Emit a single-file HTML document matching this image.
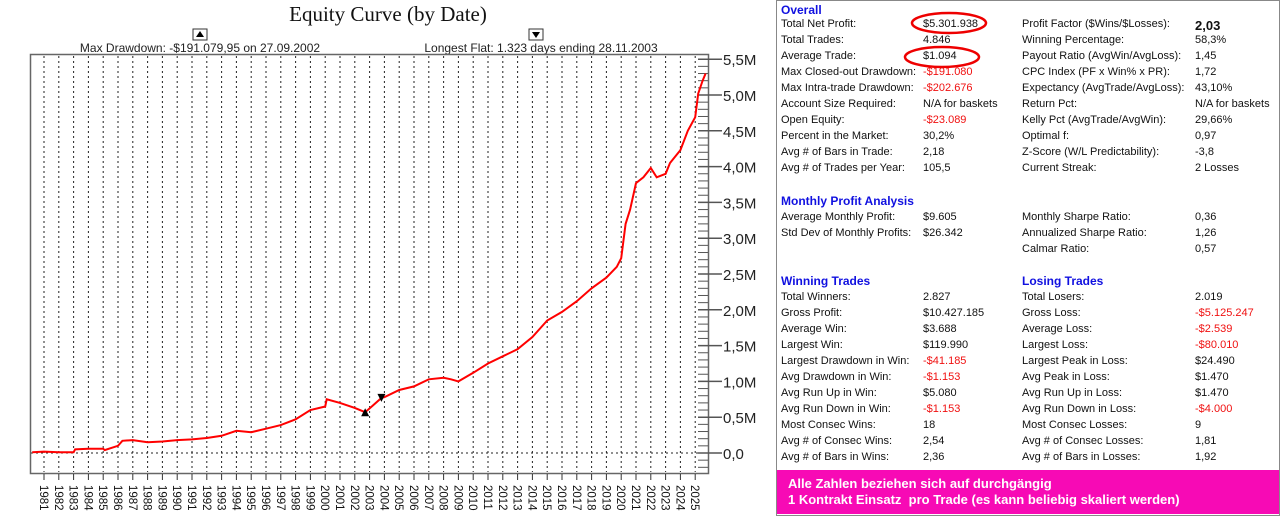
<!DOCTYPE html>
<html><head><meta charset="utf-8">
<style>
body{margin:0;width:1282px;height:516px;overflow:hidden;background:#fff;font-family:"Liberation Sans",Arial,sans-serif;position:relative}
#panel{position:absolute;left:776px;top:0;width:502px;height:514px;border:1px solid #888;background:#fff;font-size:11px;color:#111}
.t{position:absolute;white-space:nowrap}
.h{color:#1010e0;font-weight:bold;font-size:12px}
.r{color:#f01010}
</style></head><body>
<svg id="chart" width="776" height="516" style="position:absolute;left:0;top:0" font-family="Liberation Sans, Arial, sans-serif"></svg>
<div id="panel"></div>
<script>
const years=[1981,1982,1983,1984,1985,1986,1987,1988,1989,1990,1991,1992,1993,1994,1995,1996,1997,1998,1999,2000,2001,2002,2003,2004,2005,2006,2007,2008,2009,2010,2011,2012,2013,2014,2015,2016,2017,2018,2019,2020,2021,2022,2023,2024,2025];
const yTicks=[0,0.5,1,1.5,2,2.5,3,3.5,4,4.5,5,5.5];
const yTickLabels=["0,0","0,5M","1,0M","1,5M","2,0M","2,5M","3,0M","3,5M","4,0M","4,5M","5,0M","5,5M"];
const eqDates=[1980.2,1981,1982,1983,1983.1,1984,1985,1985.1,1986,1986.3,1987,1988,1989,1990,1991,1992,1993,1994,1995,1996,1997,1998,1999,2000,2000.1,2001,2002,2002.7,2003.2,2003.8,2004,2005,2006,2007,2008,2008.5,2009,2010,2011,2012,2013,2014,2015,2016,2017,2018,2019,2019.7,2020,2020.3,2020.6,2021,2021.5,2022,2022.4,2023,2023.3,2024,2024.5,2025,2025.2,2025.5,2025.7];
const eqValues=[0.01,0.02,0.01,0.01,0.05,0.06,0.06,0.04,0.1,0.17,0.18,0.15,0.16,0.18,0.19,0.21,0.24,0.31,0.29,0.34,0.39,0.47,0.6,0.65,0.75,0.7,0.63,0.57,0.66,0.77,0.78,0.88,0.93,1.03,1.05,1.03,1.0,1.12,1.25,1.35,1.45,1.62,1.85,1.97,2.12,2.3,2.45,2.6,2.72,3.2,3.4,3.77,3.85,3.98,3.85,3.9,4.05,4.23,4.5,4.69,5.02,5.2,5.3];
const ddYear=2002.7, ddVal=0.57, flatYear=2003.8, flatVal=0.77;
const NS="http://www.w3.org/2000/svg";
const svg=document.getElementById('chart');
const X=y=>44+(y-1981)*14.8;
const Y=v=>453-v*71.6;
function mk(tag,at,parent){const e=document.createElementNS(NS,tag);for(const k in at)e.setAttribute(k,at[k]);(parent||svg).appendChild(e);return e;}
let e;
e=mk('text',{x:388,y:21,'text-anchor':'middle','font-family':'Liberation Serif, serif','font-size':21,fill:'#111'});e.textContent='Equity Curve (by Date)';


e=mk('text',{x:200,y:52,'text-anchor':'middle','font-size':12,fill:'#222'});e.textContent='Max Drawdown: -$191.079,95 on 27.09.2002';


e=mk('text',{x:541,y:52,'text-anchor':'middle','font-size':12,fill:'#222'});e.textContent='Longest Flat: 1.323 days ending 28.11.2003';


e=mk('rect',{x:193,y:29,width:14,height:11,fill:'#fff',stroke:'#333'});


mk('path',{d:'M196 37 L200 31 L204 37 Z',fill:'#000'});
e=mk('rect',{x:529,y:29,width:14,height:11,fill:'#fff',stroke:'#333'});


mk('path',{d:'M532 32 L540 32 L536 38 Z',fill:'#000'});
e=mk('rect',{x:30.5,y:54.5,width:678,height:419,fill:'#fff',stroke:'#666','stroke-width':1.5});


years.forEach(yr=>{const x=X(yr);
 e=mk('line',{x1:x,y1:56,x2:x,y2:472,stroke:'#222','stroke-dasharray':'2,3'});
 
 
 mk('line',{x1:x,y1:474,x2:x,y2:480,stroke:'#333'});
 e=mk('text',{x:0,y:0,'font-size':11.5,fill:'#111',transform:`translate(${x-4},485) rotate(90)`});e.textContent=yr;
 
 
});
mk('line',{x1:31,y1:Y(0),x2:708,y2:Y(0),stroke:'#222','stroke-dasharray':'2,3'});
for(let v=-0.2;v<=5.5001;v+=0.1){mk('line',{x1:698,y1:Y(v),x2:708,y2:Y(v),stroke:'#555'});}
yTicks.forEach((v,i)=>{
 mk('line',{x1:698,y1:Y(v),x2:722,y2:Y(v),stroke:'#555','stroke-width':1.5});
 e=mk('text',{x:723,y:Y(v)+6,'font-size':15,fill:'#222'});e.textContent=yTickLabels[i];
 
 
});
let d=eqDates.map((t,i)=>(i?'L':'M')+X(t).toFixed(1)+' '+Y(eqValues[i]).toFixed(1)).join(' ');
e=mk('path',{d:d,fill:'none',stroke:'#f00','stroke-width':2});


let dx=X(ddYear),dy=Y(ddVal);
e=mk('path',{d:`M${dx-4} ${dy+4} L${dx} ${dy-4} L${dx+4} ${dy+4} Z`,fill:'#000'});


let fx=X(flatYear),fy=Y(flatVal);
e=mk('path',{d:`M${fx-4} ${fy-4} L${fx+4} ${fy-4} L${fx} ${fy+4} Z`,fill:'#000'});



const P=document.getElementById('panel');
function t(x,y,txt,cls,name){const d=document.createElement('div');d.className='t '+(cls||'');d.style.left=x+'px';d.style.top=y+'px';d.textContent=txt;
 
 
 P.appendChild(d);}
t(4,2,'Overall','h','overall-heading');
const L1=[['Total Net Profit:','$5.301.938'],['Total Trades:','4.846'],['Average Trade:','$1.094'],['Max Closed-out Drawdown:','-$191.080','r'],['Max Intra-trade Drawdown:','-$202.676','r'],['Account Size Required:','N/A for baskets'],['Open Equity:','-$23.089','r'],['Percent in the Market:','30,2%'],['Avg # of Bars in Trade:','2,18'],['Avg # of Trades per Year:','105,5']];
const R1=[['Profit Factor ($Wins/$Losses):','2,03'],['Winning Percentage:','58,3%'],['Payout Ratio (AvgWin/AvgLoss):','1,45'],['CPC Index (PF x Win% x PR):','1,72'],['Expectancy (AvgTrade/AvgLoss):','43,10%'],['Return Pct:','N/A for baskets'],['Kelly Pct (AvgTrade/AvgWin):','29,66%'],['Optimal f:','0,97'],['Z-Score (W/L Predictability):','-3,8'],['Current Streak:','2 Losses']];
function rows(arr,x1,x2,y0){arr.forEach((r,i)=>{t(x1,y0+i*16,r[0],'', 'stat-label');t(x2,y0+i*16,r[1],r[2]||'','stat-value');});}
rows(L1,4,146,17);rows(R1,245,418,17);
[...P.children].find(c=>c.textContent==='2,03').style.cssText+=';font-weight:bold;font-size:13px';
t(4,193,'Monthly Profit Analysis','h','monthly-heading');
rows([['Average Monthly Profit:','$9.605'],['Std Dev of Monthly Profits:','$26.342']],4,146,210);
rows([['Monthly Sharpe Ratio:','0,36'],['Annualized Sharpe Ratio:','1,26'],['Calmar Ratio:','0,57']],245,418,210);
t(4,273,'Winning Trades','h','winning-heading');t(245,273,'Losing Trades','h','losing-heading');
rows([['Total Winners:','2.827'],['Gross Profit:','$10.427.185'],['Average Win:','$3.688'],['Largest Win:','$119.990'],['Largest Drawdown in Win:','-$41.185','r'],['Avg Drawdown in Win:','-$1.153','r'],['Avg Run Up in Win:','$5.080'],['Avg Run Down in Win:','-$1.153','r'],['Most Consec Wins:','18'],['Avg # of Consec Wins:','2,54'],['Avg # of Bars in Wins:','2,36']],4,146,290);
rows([['Total Losers:','2.019'],['Gross Loss:','-$5.125.247','r'],['Average Loss:','-$2.539','r'],['Largest Loss:','-$80.010','r'],['Largest Peak in Loss:','$24.490'],['Avg Peak in Loss:','$1.470'],['Avg Run Up in Loss:','$1.470'],['Avg Run Down in Loss:','-$4.000','r'],['Most Consec Losses:','9'],['Avg # of Consec Losses:','1,81'],['Avg # of Bars in Losses:','1,92']],245,418,290);
</script>
<svg style="position:absolute;left:776px;top:0" width="506" height="80">
<ellipse cx="173" cy="23" rx="37" ry="10" fill="none" stroke="#e00" stroke-width="2.5"/>
<ellipse cx="166" cy="57" rx="37" ry="10" fill="none" stroke="#e00" stroke-width="2.5"/>
</svg>
<div style="position:absolute;left:777px;top:470px;width:502px;height:44px;background:#f70ab5;color:#fff;font-weight:bold;font-size:13px">
<div style="position:absolute;left:11px;top:6px;white-space:nowrap">Alle Zahlen beziehen sich auf durchgängig</div>
<div style="position:absolute;left:11px;top:22px;white-space:nowrap">1 Kontrakt Einsatz &nbsp;pro Trade (es kann beliebig skaliert werden)</div>
</div>
</body></html>
